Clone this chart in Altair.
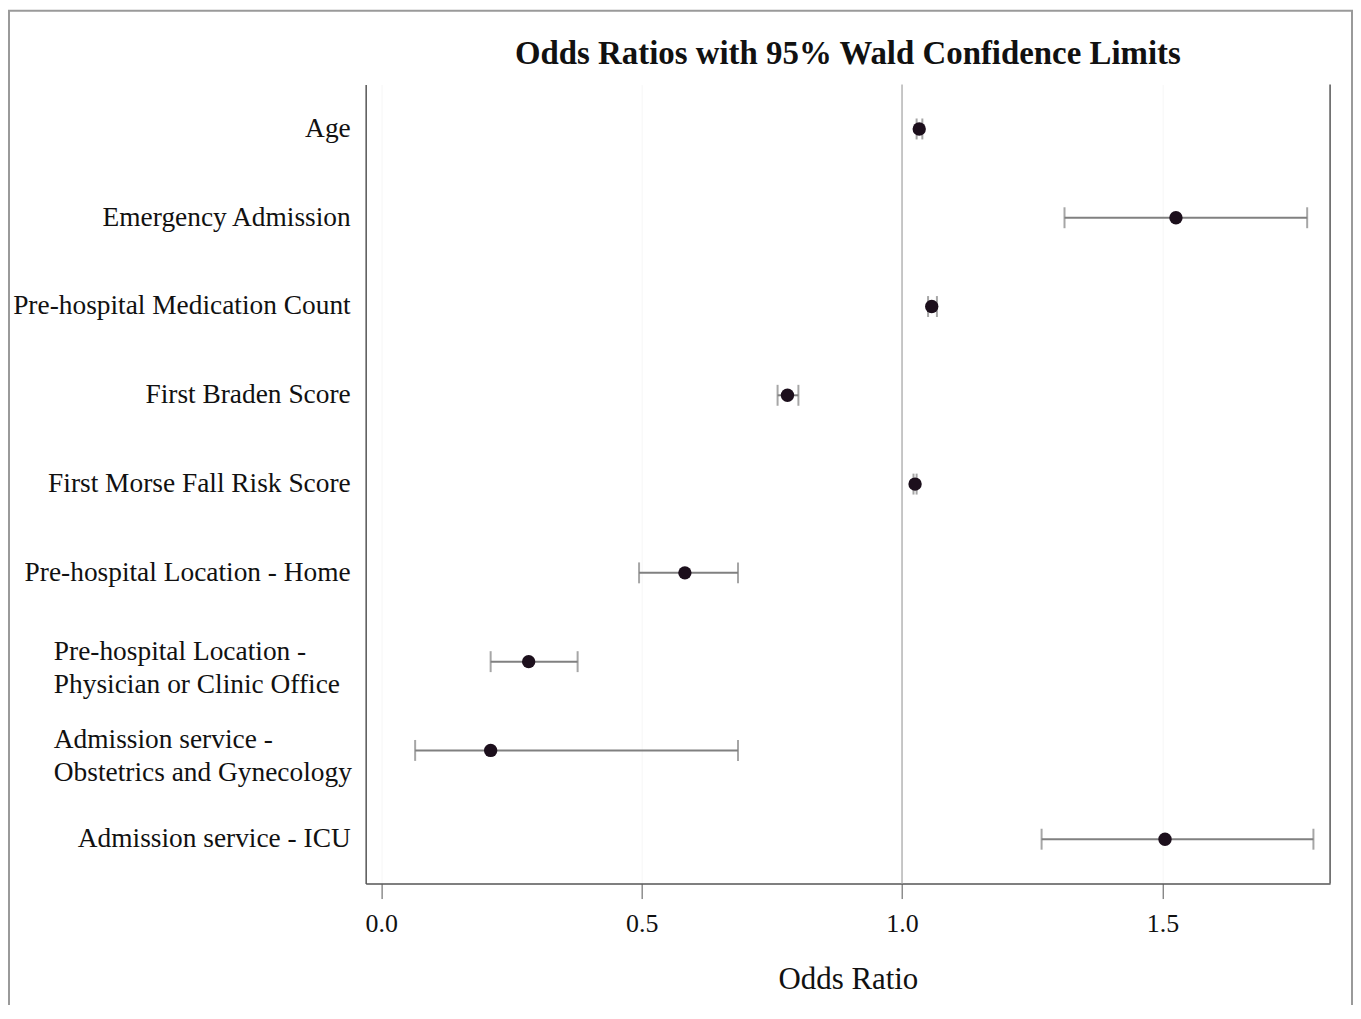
import altair as alt
import pandas as pd

categories = [
    "Age",
    "Emergency Admission",
    "Pre-hospital Medication Count",
    "First Braden Score",
    "First Morse Fall Risk Score",
    "Pre-hospital Location - Home",
    "Pre-hospital Location - Physician or Clinic Office",
    "Admission service - Obstetrics and Gynecology",
    "Admission service - ICU",
]
labels = [
    "Age",
    "Emergency Admission",
    "Pre-hospital Medication Count",
    "First Braden Score",
    "First Morse Fall Risk Score",
    "Pre-hospital Location - Home",
    "Pre-hospital Location -\nPhysician or Clinic Office",
    "Admission service -\nObstetrics and Gynecology",
    "Admission service - ICU",
]
multiline = [False, False, False, False, False, False, True, True, False]
odds = [1.033, 1.526, 1.057, 0.780, 1.025, 0.583, 0.283, 0.210, 1.505]
lower = [1.028, 1.312, 1.050, 0.761, 1.022, 0.495, 0.210, 0.065, 1.268]
upper = [1.039, 1.778, 1.067, 0.801, 1.028, 0.685, 0.377, 0.685, 1.790]
tick_values = [0.0, 0.5, 1.0, 1.5]
title_text = "Odds Ratios with 95% Wald Confidence Limits"

df = pd.DataFrame({
    "category": categories,
    "label": labels,
    "multi": multiline,
    "or": odds,
    "lo": lower,
    "hi": upper,
})

W, H = 968, 802
SERIF = "Liberation Serif"

xscale = alt.Scale(domain=[-0.03, 1.822], nice=False, zero=False)
yenc = alt.Y("category:N", sort=categories, axis=alt.Axis(
    labels=False, ticks=False, title=None, domain=True,
    domainColor="#555555", domainWidth=1.5, grid=False))

base = alt.Chart(df)

xaxis = alt.Axis(
    values=tick_values, format=".1f", title="Odds Ratio",
    labelFont=SERIF, labelFontSize=26, labelColor="#111111",
    titleFont=SERIF, titleFontSize=31, titleFontWeight="normal", titleColor="#111111",
    titlePadding=28, tickSize=15, tickColor="#555555", tickWidth=1,
    labelPadding=12, domainColor="#555555", domainWidth=1.5,
    grid=True, gridColor="#f6f6f6", labelFlush=False,
)

refline = alt.Chart(pd.DataFrame({"ref": [1.0]})).mark_rule(
    color="#b5b5b5", strokeWidth=1.5
).encode(x=alt.X("ref:Q", scale=xscale, axis=xaxis))

whisker = base.mark_rule(color="#808080", strokeWidth=2).encode(
    x=alt.X("lo:Q", scale=xscale), x2="hi:Q", y=yenc)

cap_lo = base.mark_tick(color="#808080", thickness=2, size=21, orient="vertical").encode(
    x=alt.X("lo:Q", scale=xscale), y=yenc)
cap_hi = base.mark_tick(color="#808080", thickness=2, size=21, orient="vertical").encode(
    x=alt.X("hi:Q", scale=xscale), y=yenc)

dots = base.mark_circle(size=180, color="#1c0f1c", opacity=1).encode(
    x=alt.X("or:Q", scale=xscale), y=yenc)

lab_right = base.transform_filter("!datum.multi").mark_text(
    align="right", baseline="middle", font=SERIF, fontSize=27.5, color="#111111"
).encode(y=yenc, x=alt.value(-15), text="label:N")

lab_left = base.transform_filter("datum.multi").mark_text(
    align="left", baseline="middle", font=SERIF, fontSize=27.5, color="#111111",
    lineBreak="\n", lineHeight=33, dy=-10
).encode(y=yenc, x=alt.value(-313), text="label:N")

title_mark = alt.Chart(pd.DataFrame({"t": [title_text]})).mark_text(
    align="center", baseline="middle", font=SERIF, fontSize=33,
    fontWeight="bold", color="#111111"
).encode(x=alt.value(W / 2), y=alt.value(-31), text="t:N")

right_border = alt.Chart(pd.DataFrame({"a": [0]})).mark_rule(
    color="#555555", strokeWidth=1.5
).encode(x=alt.value(W), y=alt.value(0), y2=alt.value(H))

frame = alt.Chart(pd.DataFrame({"a": [0]})).mark_rect(
    fill=None, stroke="#9a9a9a", strokeWidth=2
).encode(x=alt.value(-358), x2=alt.value(990), y=alt.value(-74), y2=alt.value(H + 160))

chart = alt.layer(
    frame, refline, whisker, cap_lo, cap_hi, dots, lab_right, lab_left,
    title_mark, right_border
).properties(
    width=W, height=H,
    autosize=alt.AutoSizeParams(type="none"),
    padding={"left": 359, "top": 75, "right": 23, "bottom": 120},
    background="white",
).configure_view(stroke=None)

chart.save("out.html", embed_options={"renderer": "svg", "actions": False})
